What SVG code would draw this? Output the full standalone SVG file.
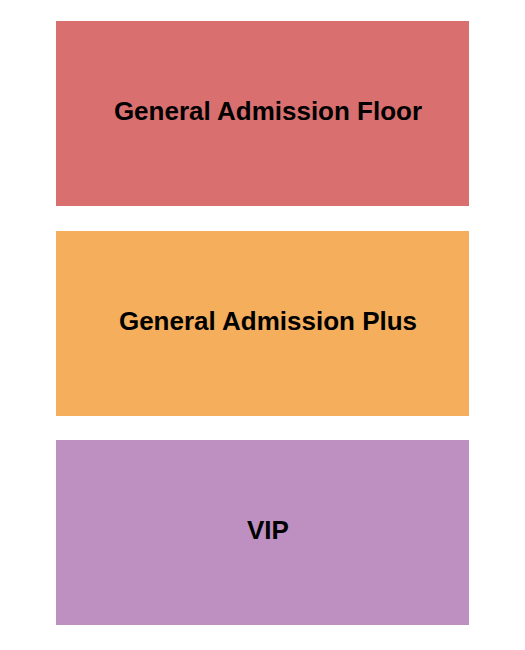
<svg xmlns="http://www.w3.org/2000/svg" width="525" height="650" viewBox="0 0 525 650">
<style>
.sec{stroke:none}
.lbl{font-family:"Liberation Sans",Arial,sans-serif;font-weight:bold;font-size:26px;fill:#000;text-anchor:middle}
</style>
<rect width="525" height="650" fill="#fff"/>
<g id="ga-floor">
<rect class="sec" x="56" y="21" width="413" height="185" fill="#d9706f"/>
<text class="lbl" x="268" y="120">General Admission Floor</text>
</g>
<g id="ga-plus">
<rect class="sec" x="56" y="231" width="413" height="185" fill="#f4ae5c"/>
<text class="lbl" x="268" y="330">General Admission Plus</text>
</g>
<g id="vip">
<rect class="sec" x="56" y="440" width="413" height="185" fill="#be90c1"/>
<text class="lbl" x="268" y="539">VIP</text>
</g>
<g id="connectors"/>
</svg>
